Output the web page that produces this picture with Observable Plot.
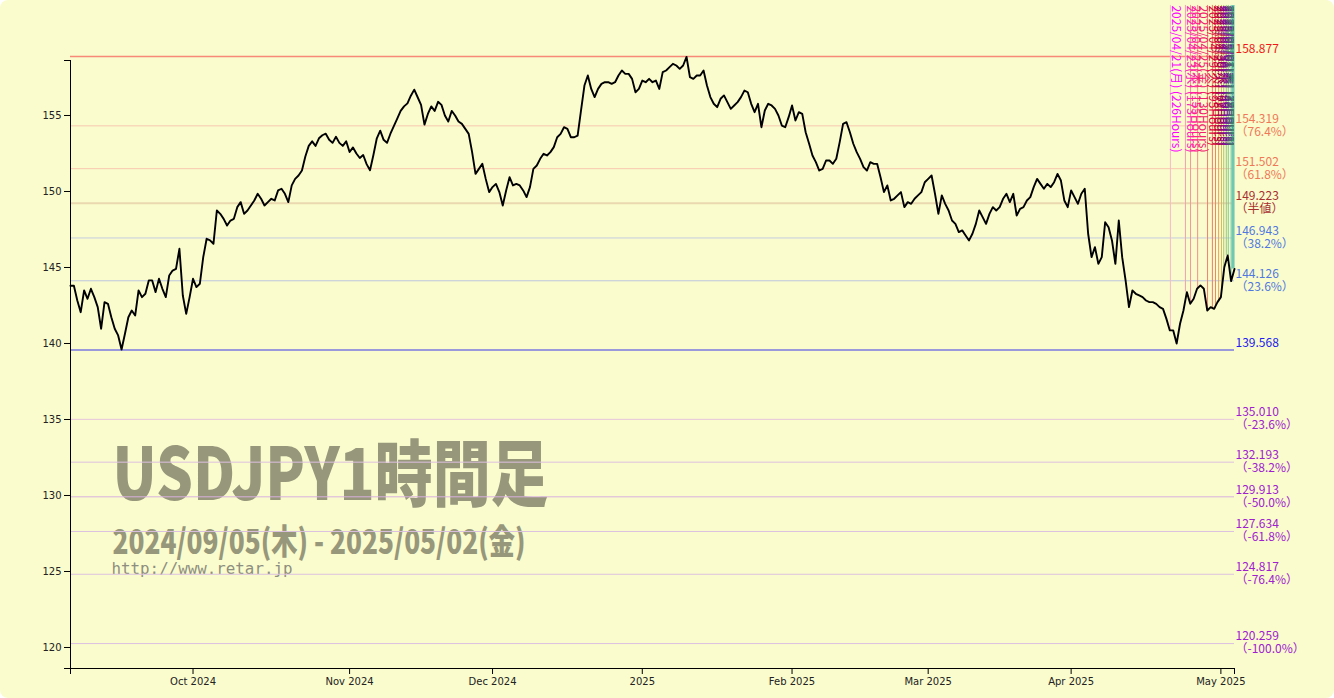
<!DOCTYPE html>
<html><head><meta charset="utf-8">
<script src="https://cdn.jsdelivr.net/npm/d3@7"></script>
<script src="https://cdn.jsdelivr.net/npm/@observablehq/plot@0.6"></script>
<style>
html,body{margin:0;padding:0;background:#fff;}
#wrap{width:1334px;height:698px;background:#fafccd;border-radius:8px;overflow:hidden;}
</style></head><body><div id="wrap"></div>
<script>
// ---- data ----
const startDate = "2024-09-05";
const holidays = ["2025-01-01"];
// USDJPY, one value every half trading day
const closes = [
143.8,143.8,142.83,142.06,143.49,142.94,143.6,143.05,142.39,140.97,
142.72,142.61,141.73,140.97,140.53,139.6,140.64,141.73,142.17,141.84,
143.49,143.05,143.27,144.15,144.15,143.38,144.26,143.6,143.05,144.47,
144.8,144.91,146.23,143.16,141.95,143.05,144.26,143.71,143.93,145.68,
146.89,146.78,146.56,148.75,148.53,148.2,147.76,148.09,148.2,148.97,
149.3,148.53,148.75,149.08,149.41,149.85,149.52,149.08,149.3,149.52,
149.41,150.07,150.18,149.85,149.3,150.4,150.83,151.05,151.38,152.3,
153.0,153.3,153.0,153.5,153.7,153.8,153.4,153.2,153.6,153.2,
153.0,153.3,152.6,152.9,152.5,152.2,152.4,151.8,151.4,152.4,
153.5,154.0,153.4,153.2,153.8,154.3,154.8,155.3,155.6,155.8,
156.3,156.7,156.2,155.7,154.4,155.1,155.6,155.3,155.9,155.7,
155.0,154.6,155.3,155.0,154.6,154.45,154.12,153.79,152.59,151.16,
151.49,151.82,150.83,149.96,150.29,150.5,149.96,149.08,150.07,150.94,
150.4,150.5,150.4,150.07,149.63,150.29,151.49,151.71,152.15,152.48,
152.37,152.59,152.92,153.57,153.79,154.23,154.12,153.57,153.57,153.68,
155.33,156.97,157.63,156.75,156.21,156.75,157.08,157.19,157.19,157.08,
157.19,157.63,157.96,157.74,157.74,157.41,156.53,156.75,157.3,157.19,
157.41,157.19,157.3,156.75,157.85,157.96,158.18,158.4,158.29,158.07,
158.29,158.85,157.52,157.41,157.63,157.63,157.96,156.97,156.21,155.77,
155.55,156.1,156.32,155.88,155.44,155.66,155.88,156.21,156.64,156.53,
155.77,155.22,155.77,154.23,155.33,155.77,155.66,155.44,155.0,154.34,
154.23,154.89,155.66,154.67,155.22,155.11,153.9,153.16,152.37,151.93,
151.38,151.49,152.04,152.04,151.82,152.15,153.25,154.45,154.56,153.9,
153.14,152.59,152.15,151.6,151.38,151.93,151.82,151.82,150.94,149.96,
150.4,149.41,149.52,149.74,149.96,148.97,149.3,149.19,149.52,149.74,
149.96,150.61,150.83,151.05,149.85,148.53,149.74,149.19,148.75,148.09,
147.87,147.33,147.44,147.11,146.78,147.22,147.87,148.75,148.31,147.87,
148.53,148.97,148.75,148.97,149.52,149.85,149.3,149.85,148.42,148.86,
148.97,149.41,149.63,150.29,150.83,150.5,150.18,150.5,150.29,150.61,
151.16,150.72,149.41,148.97,150.07,149.63,149.19,149.85,150.18,147.22,
145.68,146.34,145.24,145.68,147.98,147.65,146.78,145.24,148.09,145.68,
144.15,142.39,143.49,143.27,143.16,143.05,142.83,142.72,142.72,142.61,
142.39,142.28,141.62,140.86,140.86,140.0,141.3,142.17,143.38,142.61,
142.94,143.6,143.82,143.6,142.17,142.39,142.28,142.72,143.05,145.02,
145.79,144.1,144.9
];
const monthTickDates = ["2024-10-01","2024-11-01","2024-12-01","2025-01-01","2025-02-01","2025-03-01","2025-04-01","2025-05-01"];
const monthTickLabels = ["Oct 2024","Nov 2024","Dec 2024","2025","Feb 2025","Mar 2025","Apr 2025","May 2025"];
const yTicks = [120,125,130,135,140,145,150,155];
const levelValues = [158.877,154.319,151.502,149.223,146.943,144.126,139.568,135.010,132.193,129.913,127.634,124.817,120.259];
const levelNames = ["","76.4%","61.8%","半値","38.2%","23.6%","","-23.6%","-38.2%","-50.0%","-61.8%","-76.4%","-100.0%"];
const markerTimes = ["2025-04-21 14","2025-04-23 19","2025-04-24 13","2025-04-25 14","2025-04-29 01","2025-04-29 18","2025-04-30 05","2025-04-30 16","2025-05-01 02","2025-05-01 10","2025-05-01 19","2025-05-02 02","2025-05-02 12","2025-05-02 19"];
const titleText = "USDJPY1時間足";
const periodText = "2024/09/05(木) - 2025/05/02(金)";
const urlText = "http://www.retar.jp";

// ---- styles ----
const levelLineColors = ["#f88878","#f8c8b0","#f8c8b0","#ead8b0","#c4cce0","#bcc8e0","#7878e0","#e6c4dc","#dcc0e0","#d8b0e0","#dcc0e0","#dcc0e0","#dcc0e0"];
const levelLineWidths = [1.5,1,1,2,1,1,1.5,1,1,1,1,1,1];
const levelTextColors = ["#f01818","#f07858","#f07858","#a83030","#5078e0","#5078e0","#2020f0","#a020d0","#a020d0","#a020d0","#a020d0","#a020d0","#a020d0"];
const markerTextColors = ["#ff00ff","#ff20c0","#ff2090","#f02070","#e00040","#c00030","#a00050","#900070","#8000a0","#6020a0","#605080","#407060","#309070","#40a890"];
const markerLineColors = ["#f8b8c8","#f0a0b0","#f09898","#f09088","#f08070","#f07868","#f08858","#e8a060","#d0b860","#b0c468","#90c878","#78c890","#70c8a8","#70c8b0"];

// ---- helpers ----
const DAY = 86400000;
const parseDay = s => { const [y,m,d] = s.split("-").map(Number); return Date.UTC(y, m-1, d); };
function tradingIndex(dayStr, hour = 0) {
  const t0 = parseDay(startDate), t = parseDay(dayStr);
  let n = 0;
  for (let u = t0; u < t; u += DAY) {
    const dt = new Date(u), wd = dt.getUTCDay();
    if (wd !== 0 && wd !== 6 && !holidays.includes(dt.toISOString().slice(0,10))) n++;
  }
  return n + hour / 24;
}
const totalDays = tradingIndex("2025-05-03");
const yDomain = [118.618, 158.618];
const yTop = 162.24;

const series = closes.map((v, i) => ({t: i / 2, v}));
const monthTicks = monthTickDates.map(d => tradingIndex(d));
const tickLabel = new Map(monthTicks.map((t, i) => [t, monthTickLabels[i]]));
const levels = levelValues.map((v, i) => ({v, name: levelNames[i], lc: levelLineColors[i], lw: levelLineWidths[i], tc: levelTextColors[i]}));
const markers = markerTimes.map((s, i) => {
  const [d, h] = s.split(" ");
  const t = tradingIndex(d, +h);
  const wd = "日月火水木金土"[new Date(parseDay(d)).getUTCDay()];
  const hours = Math.round((totalDays - t) * 24);
  return {t, price: closes[Math.min(closes.length-1, Math.round(t*2))], label: `${d.replace(/-/g,"/")}(${wd}) (${hours}Hours)`,
          tc: markerTextColors[i], lc: markerLineColors[i], lw: i === markerTimes.length-1 ? 3 : 1};
});

const wm = "#97977b";
const chart = Plot.plot({
  width: 1334, height: 698,
  marginLeft: 70, marginRight: 100, marginTop: 60, marginBottom: 30,
  style: {background: "transparent", fontFamily: "DejaVu Sans, sans-serif", fontSize: "10px", color: "#222", overflow: "visible"},
  x: {type: "linear", domain: [0, totalDays], label: null},
  y: {domain: yDomain, label: null},
  color: {type: "identity"},
  marks: [
    Plot.text([titleText], {text: d => d, frameAnchor: "top-left", dx: 42, dy: 416, textAnchor: "start", lineAnchor: "middle", fill: wm, fontSize: 72, fontWeight: 900, fontFamily: "Noto Sans CJK JP"}),
    Plot.text([periodText], {text: d => d, frameAnchor: "top-left", dx: 42, dy: 483, textAnchor: "start", lineAnchor: "middle", fill: wm, fontSize: 34, fontWeight: 900, fontFamily: "Noto Sans CJK JP"}),
    Plot.text([urlText], {text: d => d, frameAnchor: "top-left", dx: 41, dy: 509, textAnchor: "start", lineAnchor: "middle", fill: "#8e8e80", fontSize: 15, fontFamily: "DejaVu Sans Mono"}),
    Plot.ruleY(levels, {y: "v", x1: 0, x2: totalDays, stroke: "lc", strokeWidth: "lw"}),
    Plot.ruleX(markers, {x: "t", y1: "price", y2: yTop, stroke: "lc", strokeWidth: "lw"}),
    Plot.line(series, {x: "t", y: "v", stroke: "#000", strokeWidth: 1.9, strokeLinejoin: "round"}),
    Plot.text(levels, {x: totalDays, y: "v", text: d => d.v.toFixed(3), dx: 1, dy: -7, textAnchor: "start", fill: "tc", fontSize: 12, fontFamily: "Noto Sans CJK JP"}),
    Plot.text(levels.filter(d => d.name), {x: totalDays, y: "v", text: d => `（${d.name}）`, dx: 1, dy: 6, textAnchor: "start", fill: "tc", fontSize: 12, fontFamily: "Noto Sans CJK JP"}),
    Plot.text(markers, {x: "t", y: yTop, text: "label", rotate: 90, textAnchor: "start", dx: 5, fill: "tc", fontSize: 12, fontFamily: "Noto Sans CJK JP"}),
    Plot.ruleX([0], {y1: yDomain[0], y2: yDomain[1], stroke: "#000"}),
    Plot.ruleY([yDomain[0]], {x1: 0, x2: totalDays, stroke: "#000"}),
    Plot.axisY({ticks: yTicks, tickSize: 6, tickPadding: 3, label: null, stroke: "#000"}),
    Plot.axisY({ticks: yDomain, tickSize: 6, tickFormat: () => "", label: null, stroke: "#000"}),
    Plot.axisX({ticks: monthTicks, tickSize: 6, tickPadding: 3, tickFormat: d => tickLabel.get(d), label: null, stroke: "#000"}),
    Plot.axisX({ticks: [0, totalDays], tickSize: 6, tickFormat: () => "", label: null, stroke: "#000"})
  ]
});
document.getElementById("wrap").appendChild(chart);

// compress the watermark text to its width in the original
const fit = {[titleText]: 436, [periodText]: 413, [urlText]: 181};
chart.querySelectorAll("text").forEach(el => {
  const w = fit[el.textContent];
  if (w) { el.setAttribute("textLength", w); el.setAttribute("lengthAdjust", "spacingAndGlyphs"); }
});

// marker labels are cut at the right edge of the plotting area
const ns = "http://www.w3.org/2000/svg";
const rightEdge = chart.scale("x").apply(totalDays);
const defs = document.createElementNS(ns, "defs");
const cp = document.createElementNS(ns, "clipPath");
cp.setAttribute("id", "markerClip");
const rect = document.createElementNS(ns, "rect");
rect.setAttribute("x", 0); rect.setAttribute("y", 0);
rect.setAttribute("width", rightEdge); rect.setAttribute("height", 698);
cp.appendChild(rect); defs.appendChild(cp); chart.insertBefore(defs, chart.firstChild);
chart.querySelectorAll("g").forEach(g => {
  const first = g.querySelector(":scope > text");
  if (first && /Hours/.test(first.textContent)) {
    const wrapper = document.createElementNS(ns, "g");
    wrapper.setAttribute("clip-path", "url(#markerClip)");
    g.parentNode.insertBefore(wrapper, g);
    wrapper.appendChild(g);
  }
});
</script></body></html>
